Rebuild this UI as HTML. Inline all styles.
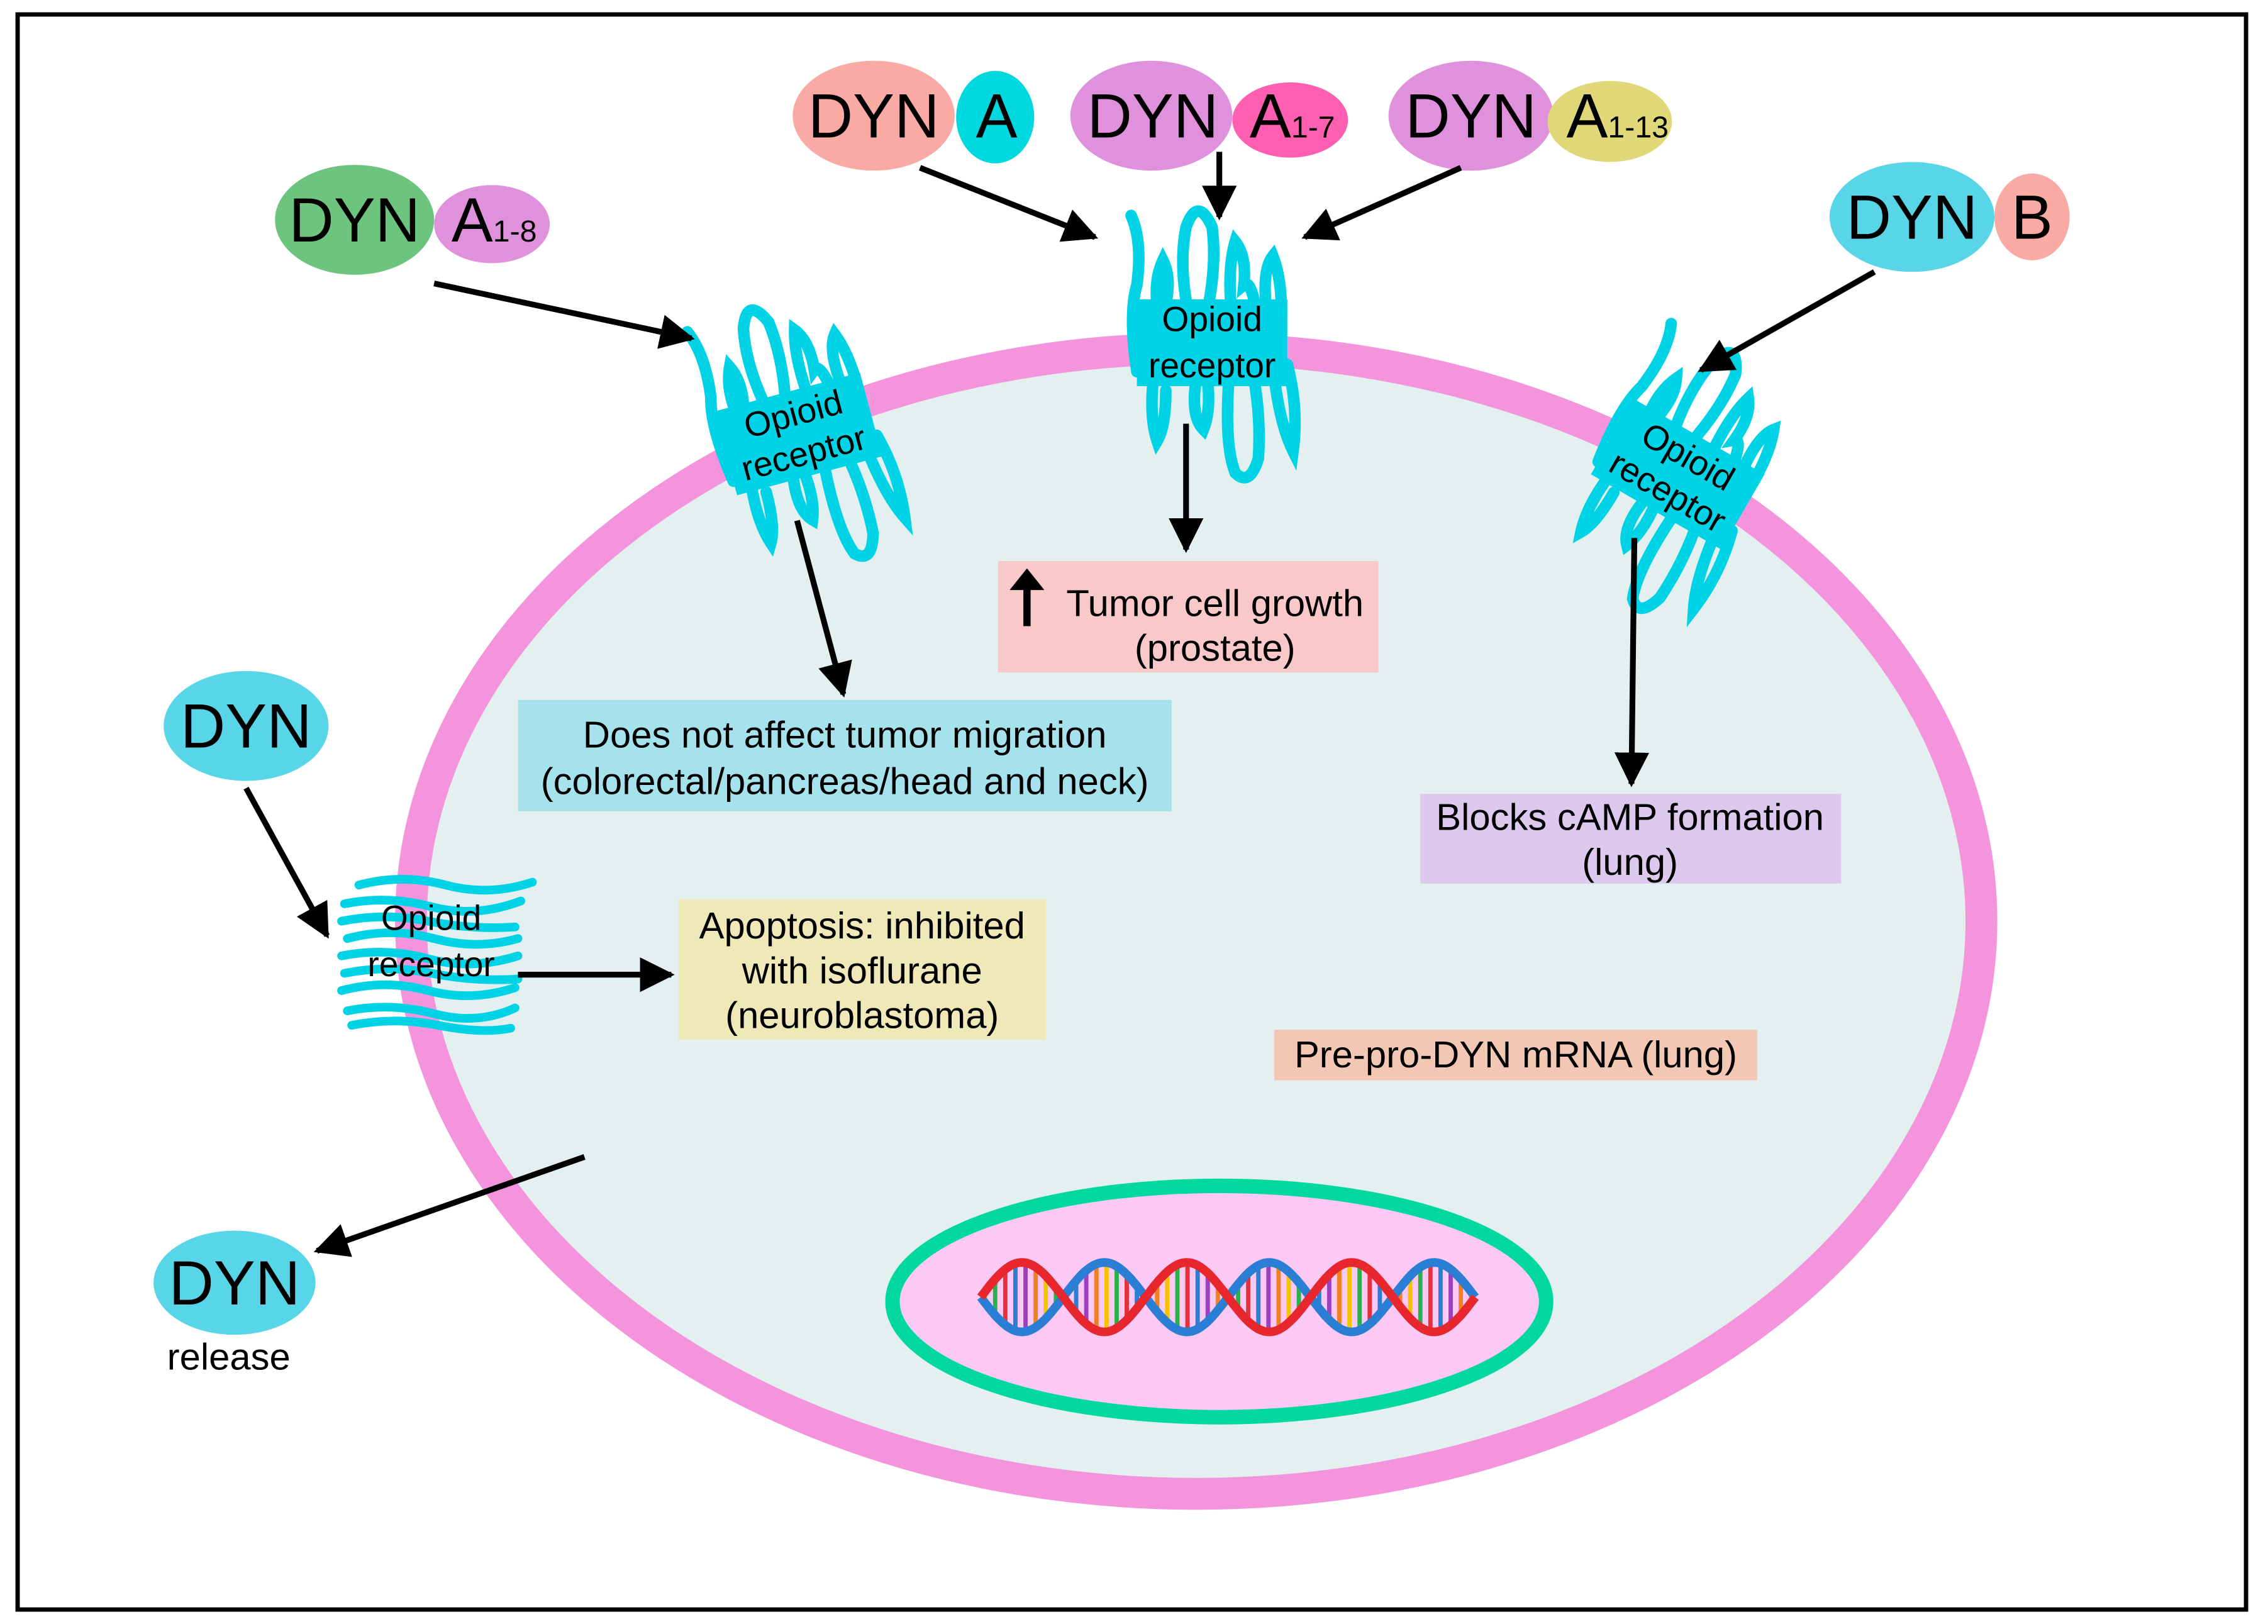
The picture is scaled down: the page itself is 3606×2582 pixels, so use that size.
<!DOCTYPE html>
<html><head><meta charset="utf-8"><style>
html,body{margin:0;padding:0;background:#fff}
svg{display:block}
text{font-family:"Liberation Sans",Arial,sans-serif}
</style></head><body>
<svg id="s" width="3606" height="2582" viewBox="0 0 1568 1123" xmlns="http://www.w3.org/2000/svg">
<defs>
<marker id="ah" viewBox="0 0 10 10" refX="9" refY="5" markerWidth="6" markerHeight="6" markerUnits="strokeWidth" orient="auto"><path d="M0,0 L10,5 L0,10 z" fill="#000"/></marker>
<g id="rec">
<g fill="none" stroke="#00d3e6" stroke-width="8" stroke-linecap="round">
<path d="M-52,20 q-6,-40 0,-60 q4,-30 -4,-48"/>
<path d="M-36,-15 q-6,-25 2,-42 q6,12 2,30"/>
<path d="M-14,-10 q-10,-40 -4,-70 q8,-22 18,0 q4,30 -6,70"/>
<path d="M14,-15 q-4,-35 2,-55 q8,10 6,30 q6,-5 10,30"/>
<path d="M38,-20 q-4,-30 4,-40 q6,15 6,40"/>
<path d="M-40,20 q-4,30 2,48 q6,-10 6,-35"/>
<path d="M-10,20 q-6,30 4,40 q6,-15 2,-40"/>
<path d="M12,20 q-4,50 4,70 q10,10 16,-10 q2,-30 -4,-60"/>
<path d="M42,15 q4,40 14,60 q4,-30 -4,-60"/>
</g>
<rect x="-52" y="-30" width="104" height="60" fill="#00d3e6"/>
</g>
</defs>
<rect x="12" y="10" width="1541" height="1103" fill="#fff" stroke="#000" stroke-width="3"/>
<ellipse cx="827" cy="637" rx="543" ry="396" fill="#e4f0f0" stroke="#f494dc" stroke-width="22"/>
<ellipse cx="843" cy="900" rx="226" ry="80" fill="#fcc8f4" stroke="#00d8a0" stroke-width="10"/>
<g id="dna"></g>

<g transform="translate(552,300) rotate(-15)"><use href="#rec"/><text x="0" y="-6" font-size="24" text-anchor="middle">Opioid</text><text x="0" y="22" font-size="24" text-anchor="middle">receptor</text></g>
<g transform="translate(838,237)"><use href="#rec"/><text x="0" y="-8" font-size="24" text-anchor="middle">Opioid</text><text x="0" y="24" font-size="24" text-anchor="middle">receptor</text></g>
<g transform="translate(1160,328) rotate(30)"><use href="#rec"/><text x="0" y="-6" font-size="24" text-anchor="middle">Opioid</text><text x="0" y="22" font-size="24" text-anchor="middle">receptor</text></g>
<g transform="translate(298,657)">
<g fill="none" stroke="#00d3e6" stroke-width="6" stroke-linecap="round">
<path d="M-50,-45 q30,-8 60,0 t60,-2"/>
<path d="M-60,-32 q30,-6 60,2 t62,-4"/>
<path d="M-62,-20 q30,-6 60,0 t60,4"/>
<path d="M-58,-8 q30,-8 60,0 t58,0"/>
<path d="M-62,4 q30,-6 60,2 t62,-2"/>
<path d="M-60,16 q30,-6 60,0 t60,4"/>
<path d="M-62,28 q30,-8 60,0 t60,-2"/>
<path d="M-58,42 q30,-6 60,2 t56,-4"/>
<path d="M-55,52 q30,-6 60,0 t50,2"/>
</g>
<text x="0" y="-14" font-size="24" text-anchor="middle">Opioid</text><text x="0" y="18" font-size="24" text-anchor="middle">receptor</text></g>

<g font-size="43">
<ellipse cx="604" cy="80" rx="56" ry="38" fill="#f9aaa5"/><ellipse cx="688" cy="81" rx="27" ry="32" fill="#00d8e0"/>
<text x="604" y="95" text-anchor="middle">DYN</text><text x="689" y="95" text-anchor="middle">A</text>
<ellipse cx="796" cy="80" rx="56" ry="38" fill="#e091dc"/><ellipse cx="892" cy="83" rx="40" ry="26" fill="#ff5fb0"/>
<text x="797" y="95" text-anchor="middle">DYN</text><text x="864" y="95">A<tspan font-size="21">1-7</tspan></text>
<ellipse cx="1017" cy="80" rx="57" ry="38" fill="#e091dc"/><ellipse cx="1113" cy="84" rx="43" ry="28" fill="#e0d878"/>
<text x="1017" y="95" text-anchor="middle">DYN</text><text x="1083" y="95">A<tspan font-size="21">1-13</tspan></text>
<ellipse cx="245" cy="152" rx="55" ry="38" fill="#6cc47f"/><ellipse cx="340" cy="155" rx="40" ry="27" fill="#e091dc"/>
<text x="245" y="167" text-anchor="middle">DYN</text><text x="312" y="167">A<tspan font-size="21">1-8</tspan></text>
<ellipse cx="1322" cy="150" rx="57" ry="38" fill="#58d5e6"/><ellipse cx="1405" cy="150" rx="26" ry="30" fill="#f9aaa5"/>
<text x="1322" y="165" text-anchor="middle">DYN</text><text x="1405" y="165" text-anchor="middle">B</text>
<ellipse cx="170" cy="502" rx="57" ry="38" fill="#58d5e6"/><text x="170" y="517" text-anchor="middle">DYN</text>
<ellipse cx="162" cy="887" rx="56" ry="36" fill="#58d5e6"/><text x="162" y="902" text-anchor="middle">DYN</text>
</g>
<text x="158" y="947" font-size="26" text-anchor="middle">release</text>

<g stroke="#000" stroke-width="4" marker-end="url(#ah)">
<line x1="300" y1="196" x2="478" y2="234"/>
<line x1="636" y1="116" x2="757" y2="164"/>
<line x1="843" y1="105" x2="843" y2="150"/>
<line x1="1010" y1="116" x2="902" y2="164"/>
<line x1="1296" y1="188" x2="1176" y2="256"/>
<line x1="551" y1="360" x2="583" y2="480"/>
<line x1="820" y1="293" x2="820" y2="380"/>
<line x1="1130" y1="372" x2="1128" y2="542"/>
<line x1="170" y1="545" x2="226" y2="647"/>
<line x1="358" y1="674" x2="464" y2="674"/>
<line x1="404" y1="800" x2="219" y2="865"/>
</g>

<g font-size="26" text-anchor="middle">
<rect x="690" y="388" width="263" height="77" fill="#f9c8c8"/>
<text x="840" y="426">Tumor cell growth</text><text x="840" y="457">(prostate)</text>
<path d="M710,433 V405" stroke="#000" stroke-width="5"/><path d="M698,408 L710,393 L722,408z" fill="#000"/>
<rect x="358" y="484" width="452" height="77" fill="#a6e2ec"/>
<text x="584" y="517">Does not affect tumor migration</text><text x="584" y="549">(colorectal/pancreas/head and neck)</text>
<rect x="982" y="549" width="291" height="62" fill="#ddc9ee"/>
<text x="1127" y="574">Blocks cAMP formation</text><text x="1127" y="605">(lung)</text>
<rect x="469" y="622" width="254" height="97" fill="#efe8b8"/>
<text x="596" y="649">Apoptosis: inhibited</text><text x="596" y="680">with isoflurane</text><text x="596" y="711">(neuroblastoma)</text>
<rect x="881" y="712" width="334" height="35" fill="#f2c8b4"/>
<text x="1048" y="738">Pre-pro-DYN mRNA (lung)</text>
</g>
</svg>
<script>
(function(){
var g=document.getElementById('dna'),ns='http://www.w3.org/2000/svg';
var x0=678,x1=1020,P=114,A=24,cy=897;
var cols=['#f4c400','#2ab24a','#e6303a','#2a7fd4','#9a40c0','#f08020'];
var i=0;
for(var x=x0+3;x<x1;x+=7){
 var a=cy-A*Math.sin(2*Math.PI*(x-x0)/P),b=cy+A*Math.sin(2*Math.PI*(x-x0)/P);
 var l=document.createElementNS(ns,'line');
 l.setAttribute('x1',x);l.setAttribute('x2',x);l.setAttribute('y1',a);l.setAttribute('y2',b);
 l.setAttribute('stroke',cols[i++%cols.length]);l.setAttribute('stroke-width','3');g.appendChild(l);
}
function curve(s,c){var d='';for(var x=x0;x<=x1;x+=2){var y=cy-s*A*Math.sin(2*Math.PI*(x-x0)/P);d+=(x==x0?'M':'L')+x+','+y.toFixed(1);}
 var p=document.createElementNS(ns,'path');p.setAttribute('d',d);p.setAttribute('fill','none');p.setAttribute('stroke',c);p.setAttribute('stroke-width','6');g.appendChild(p);}
curve(-1,'#2a7fd4');curve(1,'#e8262e');
})();
</script>
</body></html>
